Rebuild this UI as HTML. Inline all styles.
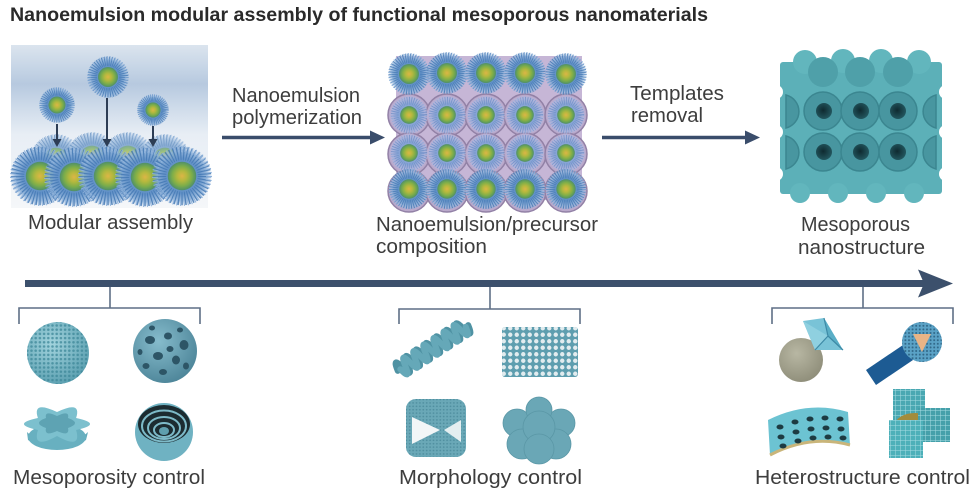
<!DOCTYPE html>
<html><head><meta charset="utf-8"><style>
html,body{margin:0;padding:0;background:#fff;}
svg{display:block;}
text{font-family:"Liberation Sans",Arial,sans-serif;}
</style></head><body>
<svg width="975" height="503" viewBox="0 0 975 503" xmlns="http://www.w3.org/2000/svg">
<defs>
<linearGradient id="bgL" x1="0" y1="0" x2="0" y2="1">
<stop offset="0" stop-color="#dbe4ee"/><stop offset="0.14" stop-color="#c6d5e6"/>
<stop offset="0.24" stop-color="#b7c9df"/><stop offset="0.36" stop-color="#cad8e8"/>
<stop offset="0.55" stop-color="#e8eef5"/><stop offset="1" stop-color="#f5f7f9"/>
</linearGradient>
<radialGradient id="cor"><stop offset="0" stop-color="#5b8ec4"/><stop offset="0.6" stop-color="#6593c8"/>
<stop offset="0.82" stop-color="#88aed8" stop-opacity="0.85"/><stop offset="1" stop-color="#a9c2e2" stop-opacity="0"/></radialGradient>
<radialGradient id="cor2"><stop offset="0" stop-color="#7a9ad0"/><stop offset="0.6" stop-color="#8aa6d6"/>
<stop offset="0.85" stop-color="#a9b6e0" stop-opacity="0.7"/><stop offset="1" stop-color="#c0c2e6" stop-opacity="0"/></radialGradient>
<radialGradient id="core"><stop offset="0" stop-color="#dcb646"/><stop offset="0.35" stop-color="#b3b83e"/>
<stop offset="0.7" stop-color="#7bad4a"/><stop offset="1" stop-color="#4f8f6a"/></radialGradient>
<g id="mic">
<circle r="20" fill="url(#cor)"/>
<circle r="15" fill="none" stroke="#4479b4" stroke-width="9" stroke-dasharray="0.8 1.3" opacity="0.85"/>
<circle r="18" fill="none" stroke="#8fb3dc" stroke-width="4" stroke-dasharray="0.6 1.8"/>
<circle r="9.5" fill="url(#core)"/>
</g>
<g id="mic2">
<circle r="20" fill="url(#cor2)"/>
<circle r="14.5" fill="none" stroke="#6a8cc6" stroke-width="8" stroke-dasharray="0.8 1.4" opacity="0.8"/>
<circle r="17.5" fill="none" stroke="#aab8e0" stroke-width="3.5" stroke-dasharray="0.6 1.8"/>
<circle r="9" fill="url(#core)"/>
</g>
<radialGradient id="sphG" cx="0.4" cy="0.35" r="0.7"><stop offset="0" stop-color="#a3d4de"/><stop offset="1" stop-color="#5a9fb0"/></radialGradient>
<radialGradient id="gyG" cx="0.4" cy="0.35" r="0.7"><stop offset="0" stop-color="#86bccc"/><stop offset="1" stop-color="#4c8498"/></radialGradient>
<radialGradient id="grey" cx="0.4" cy="0.35" r="0.7"><stop offset="0" stop-color="#b8b7a3"/><stop offset="1" stop-color="#8e8d79"/></radialGradient>
<radialGradient id="hole" cx="0.45" cy="0.45" r="0.6"><stop offset="0" stop-color="#0f2a30"/><stop offset="1" stop-color="#245a62"/></radialGradient>
<pattern id="dots" width="4.2" height="4.2" patternUnits="userSpaceOnUse"><circle cx="2.1" cy="2.1" r="1.3" fill="#3d8798"/></pattern>
<pattern id="dots2" width="3.4" height="3.4" patternUnits="userSpaceOnUse"><circle cx="1.7" cy="1.7" r="0.9" fill="#3f7f90"/></pattern>
<pattern id="holes" width="6.5" height="6.5" patternUnits="userSpaceOnUse"><circle cx="3.25" cy="3.25" r="2.2" fill="#e2ecef"/></pattern>
<pattern id="grid" width="5" height="5" patternUnits="userSpaceOnUse"><path d="M0 0H5M0 0V5" stroke="#a6dde2" stroke-width="1"/></pattern>
<pattern id="dots3" width="3.6" height="3.6" patternUnits="userSpaceOnUse"><circle cx="1.8" cy="1.8" r="1" fill="#1f4f6e"/></pattern>
</defs>

<!-- Title -->
<text x="10" y="21" font-size="19.5" font-weight="bold" fill="#2a2a2a" textLength="698" lengthAdjust="spacingAndGlyphs">Nanoemulsion modular assembly of functional mesoporous nanomaterials</text>

<!-- Left panel -->
<rect x="11" y="45" width="197" height="163" fill="url(#bgL)"/>
<g opacity="0.7">
<use href="#mic" transform="translate(56,160) scale(1.3)"/>
<use href="#mic" transform="translate(92,158) scale(1.3)"/>
<use href="#mic" transform="translate(128,158) scale(1.3)"/>
<use href="#mic" transform="translate(165,160) scale(1.3)"/>
</g>
<use href="#mic" transform="translate(40,176) scale(1.5)"/>
<use href="#mic" transform="translate(74,177) scale(1.5)"/>
<use href="#mic" transform="translate(108,176) scale(1.5)"/>
<use href="#mic" transform="translate(145,177) scale(1.5)"/>
<use href="#mic" transform="translate(182,176) scale(1.5)"/>
<use href="#mic" transform="translate(57,105) scale(0.9)"/>
<use href="#mic" transform="translate(108,77) scale(1.05)"/>
<use href="#mic" transform="translate(153,110) scale(0.8)"/>
<g stroke="#2d3d55" stroke-width="2" fill="#2d3d55">
<line x1="57" y1="124" x2="57" y2="140"/><polygon points="52.5,139 57,147 61.5,139" stroke="none"/>
<line x1="107" y1="98" x2="107" y2="140"/><polygon points="102.5,139 107,147 111.5,139" stroke="none"/>
<line x1="153" y1="126" x2="153" y2="140"/><polygon points="148.5,139 153,147 157.5,139" stroke="none"/>
</g>
<text x="28" y="229" font-size="20" fill="#3d3d3d" textLength="165" lengthAdjust="spacingAndGlyphs">Modular assembly</text>

<!-- Arrow 1 -->
<text x="232" y="102" font-size="20" fill="#3d3d3d" textLength="128" lengthAdjust="spacingAndGlyphs">Nanoemulsion</text>
<text x="232" y="124" font-size="20" fill="#3d3d3d" textLength="130" lengthAdjust="spacingAndGlyphs">polymerization</text>
<line x1="222" y1="137.5" x2="374" y2="137.5" stroke="#3a4d6b" stroke-width="3.5"/>
<polygon points="370,130.5 385,137.5 370,144.5" fill="#3a4d6b"/>

<!-- Middle panel -->
<rect x="396" y="56" width="186" height="144" fill="#c6b6d6"/>
<g fill="#baa9cb" stroke="#9281a6" stroke-width="1.5">
<circle cx="409" cy="115" r="21"/><circle cx="447" cy="115" r="21"/><circle cx="486" cy="115" r="21"/><circle cx="525" cy="115" r="21"/><circle cx="566" cy="115" r="21"/>
<circle cx="409" cy="154" r="21"/><circle cx="447" cy="154" r="21"/><circle cx="486" cy="154" r="21"/><circle cx="525" cy="154" r="21"/><circle cx="566" cy="154" r="21"/>
<circle cx="409" cy="191" r="21"/><circle cx="447" cy="191" r="21"/><circle cx="486" cy="191" r="21"/><circle cx="525" cy="191" r="21"/><circle cx="566" cy="191" r="21"/>
</g>
<use href="#mic" transform="translate(409,74) scale(1.05)"/><use href="#mic" transform="translate(447,73) scale(1.05)"/>
<use href="#mic" transform="translate(486,73) scale(1.05)"/><use href="#mic" transform="translate(525,73) scale(1.05)"/>
<use href="#mic" transform="translate(566,74) scale(1.05)"/>
<use href="#mic2" transform="translate(409,115) scale(0.98)"/><use href="#mic2" transform="translate(447,115) scale(0.98)"/>
<use href="#mic2" transform="translate(486,115) scale(0.98)"/><use href="#mic2" transform="translate(525,115) scale(0.98)"/>
<use href="#mic2" transform="translate(566,115) scale(0.98)"/>
<use href="#mic2" transform="translate(409,153) scale(0.98)"/><use href="#mic2" transform="translate(447,153) scale(0.98)"/>
<use href="#mic2" transform="translate(486,153) scale(0.98)"/><use href="#mic2" transform="translate(525,153) scale(0.98)"/>
<use href="#mic2" transform="translate(566,153) scale(0.98)"/>
<use href="#mic" transform="translate(409,189) scale(1.02)"/><use href="#mic" transform="translate(447,189) scale(1.02)"/>
<use href="#mic" transform="translate(486,189) scale(1.02)"/><use href="#mic" transform="translate(525,189) scale(1.02)"/>
<use href="#mic" transform="translate(566,189) scale(1.02)"/>
<text x="376" y="231" font-size="20" fill="#3d3d3d" textLength="222" lengthAdjust="spacingAndGlyphs">Nanoemulsion/precursor</text>
<text x="376" y="253" font-size="20" fill="#3d3d3d" textLength="111" lengthAdjust="spacingAndGlyphs">composition</text>

<!-- Arrow 2 -->
<text x="630" y="100" font-size="20" fill="#3d3d3d" textLength="94" lengthAdjust="spacingAndGlyphs">Templates</text>
<text x="631" y="122" font-size="20" fill="#3d3d3d" textLength="72" lengthAdjust="spacingAndGlyphs">removal</text>
<line x1="602" y1="137.5" x2="749" y2="137.5" stroke="#3a4d6b" stroke-width="3.5"/>
<polygon points="745,130.5 760,137.5 745,144.5" fill="#3a4d6b"/>

<!-- Right block -->
<rect x="780" y="62" width="162" height="132" rx="3" fill="#5cb0b8"/>
<g fill="#62b6bd">
<circle cx="805" cy="62" r="12"/><circle cx="843" cy="61" r="12"/><circle cx="881" cy="61" r="12"/><circle cx="919" cy="62" r="12"/>
<circle cx="800" cy="193" r="10"/><circle cx="838" cy="193" r="10"/><circle cx="876" cy="193" r="10"/><circle cx="914" cy="193" r="10"/>
</g>
<g fill="#ffffff">
<circle cx="776" cy="92" r="7"/><circle cx="776" cy="132" r="7"/><circle cx="776" cy="174" r="7"/>
<circle cx="946" cy="92" r="7"/><circle cx="946" cy="132" r="7"/><circle cx="946" cy="174" r="7"/>
</g>
<g fill="#4fa0a9"><circle cx="823" cy="72" r="15"/><circle cx="860" cy="72" r="15"/><circle cx="898" cy="72" r="15"/></g>
<g fill="#4896a0" stroke="#3b8690" stroke-width="1.5">
<circle cx="823" cy="111" r="19"/><circle cx="860" cy="111" r="19"/><circle cx="898" cy="111" r="19"/>
<circle cx="823" cy="152" r="19"/><circle cx="860" cy="152" r="19"/><circle cx="898" cy="152" r="19"/>
<path d="M786 95 A17 17 0 0 1 786 128 Z"/><path d="M786 136 A17 17 0 0 1 786 169 Z"/>
<path d="M936 95 A17 17 0 0 0 936 128 Z"/><path d="M936 136 A17 17 0 0 0 936 169 Z"/>
</g>
<g fill="url(#hole)">
<circle cx="824" cy="111" r="8"/><circle cx="861" cy="111" r="8"/><circle cx="898" cy="111" r="8"/>
<circle cx="824" cy="152" r="8"/><circle cx="861" cy="152" r="8"/><circle cx="898" cy="152" r="8"/>
</g>
<text x="801" y="231" font-size="20" fill="#3d3d3d" textLength="109" lengthAdjust="spacingAndGlyphs">Mesoporous</text>
<text x="798" y="254" font-size="20" fill="#3d3d3d" textLength="127" lengthAdjust="spacingAndGlyphs">nanostructure</text>

<!-- Timeline -->
<rect x="25" y="280" width="900" height="7" fill="#3c506c"/>
<polygon points="918,269.5 953,283.5 918,297.5 924,283.5" fill="#3c506c"/>
<g stroke="#5f6f86" stroke-width="1.6" fill="none">
<path d="M110 287V308M19 324V308H200V324"/>
<path d="M490 287V309M399 324V309H580V324"/>
<path d="M863 287V308M772 324V308H953V324"/>
</g>

<!-- Group 1 icons -->
<circle cx="58" cy="353" r="31" fill="url(#sphG)"/>
<circle cx="58" cy="353" r="31" fill="url(#dots)" opacity="0.75"/>
<circle cx="165" cy="351" r="32" fill="url(#gyG)"/>
<g fill="#2d5566">
<ellipse cx="150" cy="340" rx="5" ry="4"/><ellipse cx="168" cy="336" rx="4" ry="3.5"/><ellipse cx="184" cy="345" rx="4.5" ry="5"/>
<ellipse cx="158" cy="356" rx="5" ry="4"/><ellipse cx="176" cy="360" rx="4" ry="4.5"/><ellipse cx="146" cy="366" rx="3.5" ry="3"/>
<ellipse cx="163" cy="372" rx="4" ry="3"/><ellipse cx="186" cy="366" rx="3" ry="3.5"/><ellipse cx="170" cy="349" rx="3.5" ry="3"/>
<ellipse cx="152" cy="328" rx="3" ry="2.5"/><ellipse cx="180" cy="330" rx="3" ry="2.5"/><ellipse cx="140" cy="352" rx="2.5" ry="3"/>
</g>
<path d="M27,432 Q57,462 88,432 L86,440 Q57,458 28,440 Z" fill="#62abbb"/>
<ellipse cx="57" cy="437" rx="29" ry="13" fill="#68b0c0"/>
<path d="M76.1,418 Q104,424 76.1,430 Q82,450 57,436 Q32,450 37.9,430 Q10,424 37.9,418 Q32,400 57,412 Q82,400 76.1,418 Z" fill="#7cc0ce"/>
<path d="M68,418 Q82,423 68,428 Q70,437 57,431 Q44,437 46,428 Q32,423 46,418 Q44,410 57,416 Q70,410 68,418 Z" fill="#5ea3b3"/>
<circle cx="164" cy="432" r="29" fill="#6fb2c2"/>
<ellipse cx="164" cy="424" rx="26" ry="19" fill="#1c2c31"/>
<g fill="none" stroke="#7dbac8" stroke-width="2">
<ellipse cx="164" cy="426" rx="22" ry="15.5"/><ellipse cx="164" cy="428" rx="16" ry="11"/><ellipse cx="164" cy="430" rx="10" ry="7"/>
</g>
<ellipse cx="164" cy="431" rx="5" ry="4" fill="#5f9fae"/>
<text x="13" y="484" font-size="20" fill="#3d3d3d" textLength="192" lengthAdjust="spacingAndGlyphs">Mesoporosity control</text>

<!-- Group 2 icons -->
<g transform="translate(433,348) rotate(-33)" fill="none" stroke-linecap="round">
<path d="M-42,0 Q-39,-16 -36,0 T-30,0 T-24,0 T-18,0 T-12,0 T-6,0 T0,0 T6,0 T12,0 T18,0 T24,0 T30,0 T36,0 T42,0" stroke="#4f92a3" stroke-width="6"/>
<path d="M-39,0 Q-36,16 -33,0 T-27,0 T-21,0 T-15,0 T-9,0 T-3,0 T3,0 T9,0 T15,0 T21,0 T27,0 T33,0 T39,0" stroke="#65a8b8" stroke-width="6"/>
</g>
<rect x="502" y="327" width="76" height="50" rx="3" fill="#5e9eaf"/>
<rect x="502" y="327" width="76" height="50" rx="3" fill="url(#holes)"/>
<rect x="406" y="399" width="60" height="58" rx="10" fill="#6aa8b7"/>
<rect x="406" y="399" width="60" height="58" rx="10" fill="url(#dots2)" opacity="0.6"/>
<polygon points="412,417 440,430 412,444" fill="#f2f6f7"/>
<polygon points="444,430 461,420 461,442" fill="#e4eef0"/>
<g fill="#6aa7b6" stroke="#5a97a6" stroke-width="0.8">
<circle cx="517" cy="423" r="14"/><circle cx="561" cy="423" r="14"/><circle cx="539" cy="410" r="13"/>
<circle cx="522" cy="444" r="15"/><circle cx="556" cy="444" r="15"/><circle cx="539" cy="427" r="16"/><circle cx="539" cy="449" r="15"/>
</g>
<text x="399" y="484" font-size="20" fill="#3d3d3d" textLength="183" lengthAdjust="spacingAndGlyphs">Morphology control</text>

<!-- Group 3 icons -->
<circle cx="801" cy="360" r="22" fill="url(#grey)"/>
<polygon points="803,321 824,318 843,350 815,350" fill="#79c3d7"/>
<polygon points="824,318 843,350 828,336" fill="#5aaec6"/>
<polygon points="803,321 828,336 815,350" fill="#8fd0e0"/>
<path d="M828,336 L824,318 M828,336 L843,350 M828,336 L815,350" stroke="#3d8aa6" stroke-width="1.2" fill="none"/>
<polygon points="866,370 876,385 913,360 903,345" fill="#1d5b93"/>
<circle cx="922" cy="342" r="20" fill="#5aa2c6"/>
<circle cx="922" cy="342" r="20" fill="url(#dots3)" opacity="0.7"/>
<polygon points="913,334 931,334 922,352" fill="#e8b486"/>
<path d="M768,420 Q808,400 848,412 L850,445 Q810,434 770,455 Z" fill="#6cc3d2"/>
<path d="M770,455 Q810,434 850,445" fill="none" stroke="#c9b57a" stroke-width="3"/>
<g fill="#1d3b42">
<ellipse cx="780" cy="427" rx="3.5" ry="2.5"/><ellipse cx="795" cy="422" rx="3.5" ry="2.5"/><ellipse cx="810" cy="419" rx="3.5" ry="2.5"/><ellipse cx="825" cy="418" rx="3.5" ry="2.5"/><ellipse cx="840" cy="419" rx="3.5" ry="2.5"/>
<ellipse cx="781" cy="437" rx="3.5" ry="2.5"/><ellipse cx="796" cy="432" rx="3.5" ry="2.5"/><ellipse cx="811" cy="429" rx="3.5" ry="2.5"/><ellipse cx="826" cy="428" rx="3.5" ry="2.5"/><ellipse cx="841" cy="429" rx="3.5" ry="2.5"/>
<ellipse cx="783" cy="446" rx="3.5" ry="2.5"/><ellipse cx="798" cy="441" rx="3.5" ry="2.5"/><ellipse cx="813" cy="438" rx="3.5" ry="2.5"/><ellipse cx="828" cy="437" rx="3.5" ry="2.5"/><ellipse cx="843" cy="438" rx="3.5" ry="2.5"/>
</g>
<rect x="893" y="389" width="32" height="32" fill="#4aa8b2"/><rect x="893" y="389" width="32" height="32" fill="url(#grid)"/>
<ellipse cx="915" cy="425" rx="20" ry="12" fill="#a38c3c"/>
<rect x="918" y="408" width="32" height="34" fill="#45a0aa"/><rect x="918" y="408" width="32" height="34" fill="url(#grid)"/>
<rect x="889" y="420" width="34" height="38" fill="#4db0b9"/><rect x="889" y="420" width="34" height="38" fill="url(#grid)"/>
<text x="755" y="484" font-size="20" fill="#3d3d3d" textLength="215" lengthAdjust="spacingAndGlyphs">Heterostructure control</text>
</svg>
</body></html>
